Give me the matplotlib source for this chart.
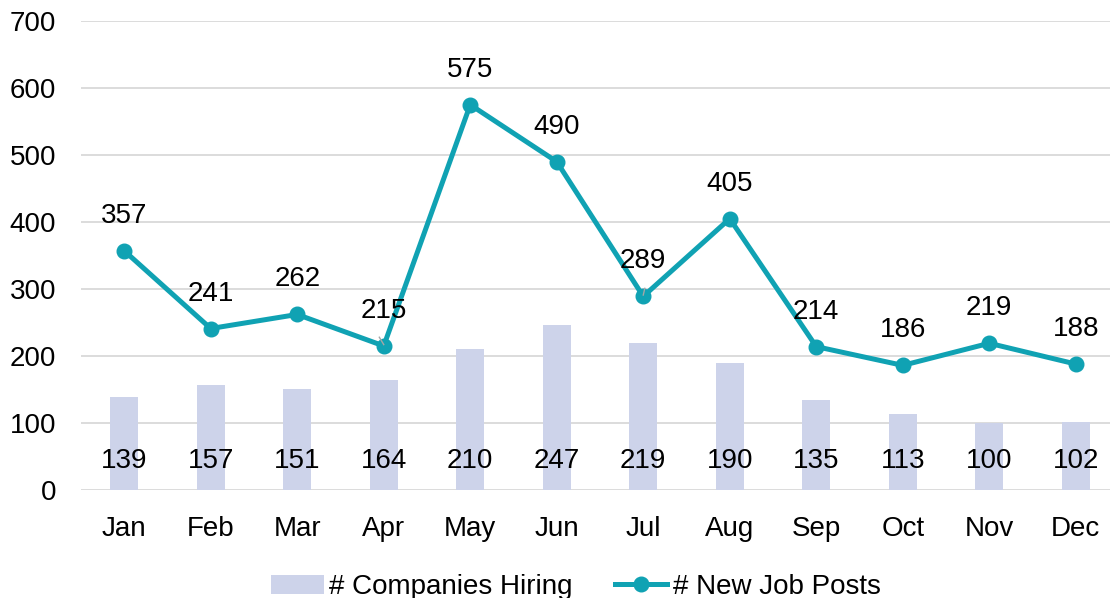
import numpy as np
import matplotlib
matplotlib.use("Agg")
import matplotlib.pyplot as plt

plt.rcParams['font.family'] = ['Liberation Sans', 'DejaVu Sans']

months = ['Jan', 'Feb', 'Mar', 'Apr', 'May', 'Jun', 'Jul', 'Aug', 'Sep', 'Oct', 'Nov', 'Dec']
companies = [139, 157, 151, 164, 210, 247, 219, 190, 135, 113, 100, 102]
job_posts = [357, 241, 262, 215, 575, 490, 289, 405, 214, 186, 219, 188]

bar_color = '#CDD3EA'
line_color = '#10A2B3'
fs = 20

fig = plt.figure(figsize=(11.1, 5.98), dpi=100)
# plot area: x 81..1119 px, y 21..490 px (from top)
ax = fig.add_axes([81 / 1110, (598 - 490) / 598, 1038 / 1110, 469 / 598])

x = np.arange(len(months))
bars = ax.bar(x, companies, width=0.32, color=bar_color, zorder=2, label='# Companies Hiring')
line, = ax.plot(x, job_posts, color=line_color, lw=3.6, marker='o', ms=10.5, zorder=3,
                label='# New Job Posts')

# bar labels sit near the base
for xi, v in zip(x, companies):
    ax.text(xi, 43, str(v), ha='center', va='center', fontsize=fs, zorder=4)

# line labels above points
for xi, v in zip(x, job_posts):
    ax.annotate(str(v), (xi, v), xytext=(0, 35), textcoords='offset pixels',
                ha='center', va='center', fontsize=fs, zorder=4)

# small leader lines for labels close to the line
for i, dx, dy in [(3, -0.17, 13), (6, 0.06, 12)]:
    ax.plot([x[i] + dx * 0.3, x[i]], [job_posts[i] + dy, job_posts[i] + 2],
            color='#A6A6A6', lw=1, zorder=5)

ax.set_xlim(-0.5, 11.5)
ax.set_ylim(0, 700)
ax.set_yticks(range(0, 701, 100))
ax.set_xticks(x)
ax.set_xticklabels(months)
ax.tick_params(axis='both', length=0, labelsize=fs)
ax.tick_params(axis='y', pad=18)
ax.tick_params(axis='x', pad=18.5)
ax.grid(axis='y', color='#D9D9D9', lw=1.3, zorder=0)
ax.set_axisbelow(True)
for s in ax.spines.values():
    s.set_visible(False)

fig.legend([bars, line], ['# Companies Hiring', '# New Job Posts'], loc='center',
           bbox_to_anchor=(576 / 1110, 11 / 598), ncol=2,
           frameon=False, fontsize=fs, handlelength=1.9, handletextpad=0.2,
           columnspacing=1.5)

fig.savefig('out.png', dpi=100)
